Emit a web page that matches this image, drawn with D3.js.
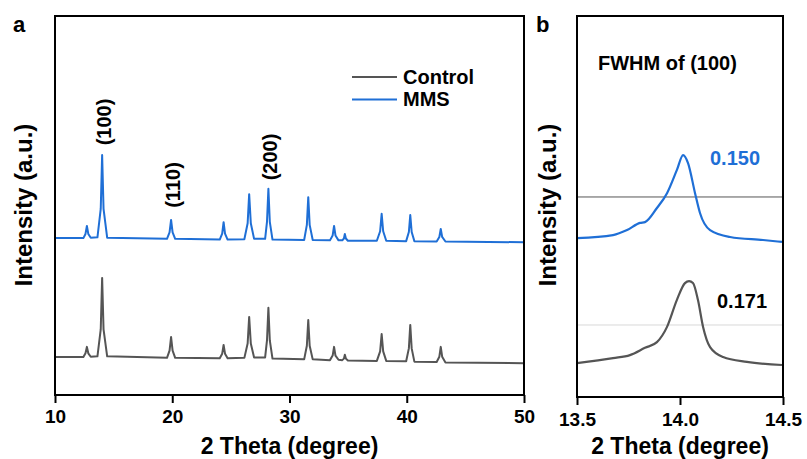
<!DOCTYPE html>
<html>
<head>
<meta charset="utf-8">
<script src="https://cdn.jsdelivr.net/npm/d3@7"></script>
<style>
  body { margin: 0; background: #fff; }
  svg { font-family: Arial, "Liberation Sans", sans-serif; font-weight: bold; }
</style>
</head>
<body>
<div id="chart"></div>
<script>
// panel a: shared 2 theta sample points (peak foot, shoulder, top, shoulder, foot)
const twoTheta = [10.0,
  12.42, 12.6, 12.72, 12.84, 13.05,
  13.62, 13.9, 14.02, 14.14, 14.45,
  19.55, 19.77, 19.9, 20.03, 20.25,
  24.05, 24.26, 24.38, 24.5, 24.72,
  26.15, 26.43, 26.56, 26.7, 26.98,
  27.92, 28.08, 28.2, 28.32, 28.55,
  31.25, 31.48, 31.6, 31.72, 31.98,
  33.45, 33.68, 33.8, 33.92, 34.18,
  34.5, 34.64, 34.72, 34.81, 34.98,
  37.45, 37.73, 37.86, 37.99, 38.25,
  39.95, 40.18, 40.3, 40.42, 40.65,
  42.55, 42.78, 42.9, 43.02, 43.3,
  50.0];

const controlIntensity = [10.0,
  10.0, 11.0, 12.7, 11.0, 10.1,
  10.2, 17.3, 30.9, 17.3, 10.2,
  9.8, 11.7, 15.3, 11.7, 9.8,
  9.7, 10.9, 13.2, 10.9, 9.7,
  9.8, 13.6, 20.6, 13.6, 9.9,
  9.9, 14.4, 23.0, 14.4, 9.6,
  9.4, 13.0, 19.8, 13.0, 9.4,
  9.2, 10.4, 12.7, 10.4, 9.3,
  9.2, 9.6, 10.6, 9.6, 9.1,
  9.0, 11.5, 16.1, 11.5, 9.0,
  8.9, 12.3, 18.5, 12.3, 8.8,
  8.7, 10.1, 12.7, 10.1, 8.6,
  8.4];

const mmsIntensity = [41.4,
  41.4, 42.5, 44.6, 42.5, 41.5,
  41.6, 49.1, 63.3, 49.1, 41.5,
  41.2, 42.9, 46.2, 42.9, 41.2,
  41.0, 42.6, 45.6, 42.6, 41.0,
  41.1, 45.3, 53.0, 45.3, 41.2,
  41.2, 45.7, 54.4, 45.7, 41.0,
  40.9, 44.9, 52.2, 44.9, 40.9,
  40.8, 42.1, 44.6, 42.1, 40.8,
  40.8, 41.3, 42.5, 41.3, 40.7,
  40.7, 43.2, 47.8, 43.2, 40.7,
  40.6, 43.0, 47.5, 43.0, 40.6,
  40.5, 41.7, 43.8, 41.7, 40.5,
  40.3];

const peakLabels = ["(100)", "(110)", "(200)"];
const peakLabelPos = [14.0, 19.9, 28.2];

const seriesNames = ["Control", "MMS"];
const seriesColors = ["#555555", "#1f6fd6"];

// panel b: zoom on the (100) peak
const mmsThetaB = [13.5, 13.675, 13.743, 13.806, 13.83, 13.888, 13.937, 13.985, 14.015,
  14.039, 14.073, 14.097, 14.146, 14.243, 14.403, 14.495];
const mmsIntensityB = [41.7, 42.5, 43.8, 45.7, 45.9, 49.6, 53.5, 59.6, 63.5,
  61.4, 53.5, 48.3, 43.8, 42.0, 41.2, 40.7];
const controlThetaB = [13.5, 13.675, 13.757, 13.83, 13.888, 13.937, 13.985, 14.024, 14.044,
  14.063, 14.087, 14.112, 14.146, 14.209, 14.325, 14.495];
const controlIntensityB = [8.9, 10.2, 11.0, 12.9, 14.4, 18.4, 25.5, 29.9, 30.4,
  29.9, 25.5, 18.4, 13.1, 10.5, 9.2, 8.4];
const halfMax = [18.9, 52.5];   // control, MMS
const fwhmValues = ["0.171", "0.150"];

const width = 807;
const height = 459;

window.onload = function() {
  const svg = d3.select("#chart").append("svg")
    .attr("width", width)
    .attr("height", height);
  drawPanelA(svg);
  drawPanelB(svg);
};

function bottomAxis(svg, x, y, major, minor, fmt, pad) {
  const g = svg.append("g").attr("transform", `translate(0,${y})`);
  g.call(d3.axisBottom(x).tickValues(minor).tickSize(4).tickFormat(""));
  g.call(d3.axisBottom(x).tickValues(major).tickSize(8).tickPadding(pad).tickFormat(fmt));
  g.selectAll(".domain").remove();
  g.selectAll("line").attr("stroke", "#000").attr("stroke-width", 2);
  g.selectAll("text").attr("font-size", 19).attr("font-family", null).attr("fill", "#000");
}

function frame(svg, x, y) {
  svg.append("rect")
    .attr("x", x.range()[0]).attr("y", y.range()[1])
    .attr("width", x.range()[1] - x.range()[0])
    .attr("height", y.range()[0] - y.range()[1])
    .attr("fill", "none").attr("stroke", "#000").attr("stroke-width", 2);
}

function yTitle(svg, x, y) {
  svg.append("text")
    .attr("transform", `translate(${x},${y}) rotate(-90)`)
    .attr("text-anchor", "middle")
    .attr("font-size", 24)
    .text("Intensity (a.u.)");
}

function xTitle(svg, x) {
  svg.append("text")
    .attr("x", (x.range()[0] + x.range()[1]) / 2).attr("y", 454)
    .attr("text-anchor", "middle").attr("font-size", 23)
    .text("2 Theta (degree)");
}

function drawPanelA(svg) {
  const x = d3.scaleLinear().domain([10, 50]).range([55, 524]);
  const y = d3.scaleLinear().domain([0, 100]).range([395, 16]);

  const line = d3.line()
    .x((d, i) => x(twoTheta[i]))
    .y(d => y(d));

  [controlIntensity, mmsIntensity].forEach((s, k) => {
    svg.append("path")
      .datum(s)
      .attr("d", line)
      .attr("fill", "none")
      .attr("stroke", seriesColors[k])
      .attr("stroke-width", 2)
      .attr("stroke-linejoin", "round");
  });

  bottomAxis(svg, x, 395, [10, 20, 30, 40, 50], [15, 25, 35, 45], d3.format("d"), 7);
  frame(svg, x, y);

  // peak labels above the MMS trace
  const labelY = [122, 185, 157];
  peakLabels.forEach((t, i) => {
    svg.append("text")
      .attr("transform", `translate(${x(peakLabelPos[i]) + 9},${labelY[i]}) rotate(-90)`)
      .attr("text-anchor", "middle")
      .attr("font-size", 20)
      .text(t);
  });

  // legend
  seriesNames.forEach((n, i) => {
    const ly = 77 + i * 22.5;
    svg.append("line")
      .attr("x1", 352).attr("x2", 397).attr("y1", ly).attr("y2", ly)
      .attr("stroke", seriesColors[i]).attr("stroke-width", 2.2);
    svg.append("text")
      .attr("x", 403).attr("y", ly + 6.5)
      .attr("font-size", 20)
      .text(n);
  });

  svg.append("text").attr("x", 13).attr("y", 32).attr("font-size", 22).text("a");
  yTitle(svg, 32, 205);
  xTitle(svg, x);
}

function drawPanelB(svg) {
  const x = d3.scaleLinear().domain([13.5, 14.5]).range([577, 783]);
  const y = d3.scaleLinear().domain([0, 100]).range([397, 16]);

  // half maximum guide lines
  const guideColors = ["#d9d9d9", "#555555"];
  halfMax.forEach((h, i) => {
    svg.append("line")
      .attr("x1", x(13.5)).attr("x2", x(14.5))
      .attr("y1", y(h)).attr("y2", y(h))
      .attr("stroke", guideColors[i]).attr("stroke-width", 1);
  });

  const traces = [[controlThetaB, controlIntensityB], [mmsThetaB, mmsIntensityB]];
  traces.forEach((tr, k) => {
    const line = d3.line()
      .x((d, i) => x(tr[0][i]))
      .y(d => y(d))
      .curve(d3.curveMonotoneX);
    svg.append("path")
      .datum(tr[1])
      .attr("d", line)
      .attr("fill", "none")
      .attr("stroke", seriesColors[k])
      .attr("stroke-width", 2.2);
  });

  bottomAxis(svg, x, 397, [13.5, 14.0, 14.5], [13.75, 14.25], d3.format(".1f"), 8);
  frame(svg, x, y);

  svg.append("text").attr("x", 598).attr("y", 70).attr("font-size", 20).text("FWHM of (100)");
  svg.append("text").attr("x", 710).attr("y", 165).attr("font-size", 20)
    .attr("fill", seriesColors[1]).text(fwhmValues[1]);
  svg.append("text").attr("x", 717).attr("y", 308).attr("font-size", 20)
    .attr("fill", "#000").text(fwhmValues[0]);

  svg.append("text").attr("x", 536).attr("y", 32).attr("font-size", 22).text("b");
  yTitle(svg, 556, 205);
  xTitle(svg, x);
}
</script>
</body>
</html>
